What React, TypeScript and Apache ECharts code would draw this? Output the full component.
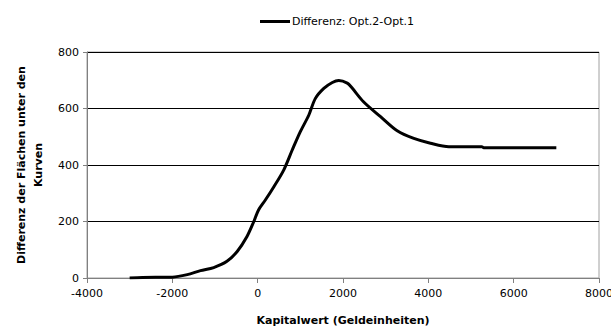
import React, { useEffect, useRef } from "react";
import * as echarts from "echarts";

const seriesName = "Differenz: Opt.2-Opt.1";
const xValues = [-3000, -2700, -2000, -1650, -1340, -1030, -720, -480, -250, -90, 20, 180, 380, 610, 810, 1000, 1200, 1350, 1550, 1750, 1900, 2100, 2200, 2480, 2880, 3270, 3660, 4050, 4480, 5250, 5300, 7000];
const yValues = [0, 2, 3, 12, 26, 37, 59, 94, 147, 200, 241, 276, 323, 382, 453, 518, 577, 635, 671, 692, 699, 690, 675, 624, 571, 521, 494, 477, 465, 465, 461, 461];
const xTicks = { min: -4000, max: 8000, interval: 2000 };
const yTicks = { min: 0, max: 800, interval: 200 };
const xAxisTitle = "Kapitalwert (Geldeinheiten)";
const yAxisTitle = "Differenz der Flächen unter den\nKurven";

export default function App() {
  const ref = useRef<HTMLDivElement>(null);
  useEffect(() => {
    if (!ref.current) return;
    const chart = echarts.init(ref.current, null, { renderer: "svg" });
    const font = "'DejaVu Sans', Verdana, sans-serif";
    chart.setOption({
      animation: false,
      backgroundColor: "#fff",
      textStyle: { fontFamily: font },
      legend: {
        left: 255,
        top: 11,
        itemWidth: 30,
        itemHeight: 3,
        itemGap: 2,
        icon: "rect",
        textStyle: { fontSize: 11, color: "#000", fontFamily: font, padding: [0, 0, 0, -3] },
        data: [seriesName],
      },
      grid: {
        left: 87,
        right: 12,
        top: 52,
        bottom: 53,
        show: true,
        borderColor: "#a0a0a0",
        borderWidth: 1,
        outerBoundsMode: "none",
        containLabel: false,
      },
      xAxis: {
        type: "value",
        min: xTicks.min,
        max: xTicks.max,
        interval: xTicks.interval,
        name: xAxisTitle,
        nameLocation: "middle",
        nameGap: 37,
        nameTextStyle: { fontSize: 11, fontWeight: "bold", color: "#000", fontFamily: font },
        axisLine: { show: true, onZero: false, lineStyle: { color: "#808080", width: 1 } },
        axisTick: { show: true, length: 5, lineStyle: { color: "#808080" } },
        axisLabel: { fontSize: 11, color: "#000", margin: 10, fontFamily: font, formatter: (v: number) => String(v) },
        splitLine: { show: false },
      },
      yAxis: {
        type: "value",
        min: yTicks.min,
        max: yTicks.max,
        interval: yTicks.interval,
        name: yAxisTitle,
        nameLocation: "middle",
        nameRotate: 90,
        nameGap: 40,
        nameTextStyle: { fontSize: 11, fontWeight: "bold", color: "#000", lineHeight: 17, fontFamily: font },
        axisLine: { show: true, onZero: false, lineStyle: { color: "#808080", width: 1 } },
        axisTick: { show: true, length: 4, lineStyle: { color: "#808080" } },
        axisLabel: { fontSize: 11, color: "#000", margin: 8, fontFamily: font, formatter: (v: number) => String(v) },
        splitLine: { show: true, lineStyle: { color: "#000", width: 1 } },
      },
      series: [
        {
          name: seriesName,
          type: "line",
          data: xValues.map((x, i) => [x, yValues[i]]),
          showSymbol: false,
          smooth: 0.3,
          lineStyle: { color: "#000", width: 3 },
          itemStyle: { color: "#000" },
        },
      ],
    });
    return () => chart.dispose();
  }, []);
  return (
    <div
      ref={ref}
      style={{ position: "fixed", left: 0, top: 0, width: 611, height: 331, background: "#fff" }}
    />
  );
}
